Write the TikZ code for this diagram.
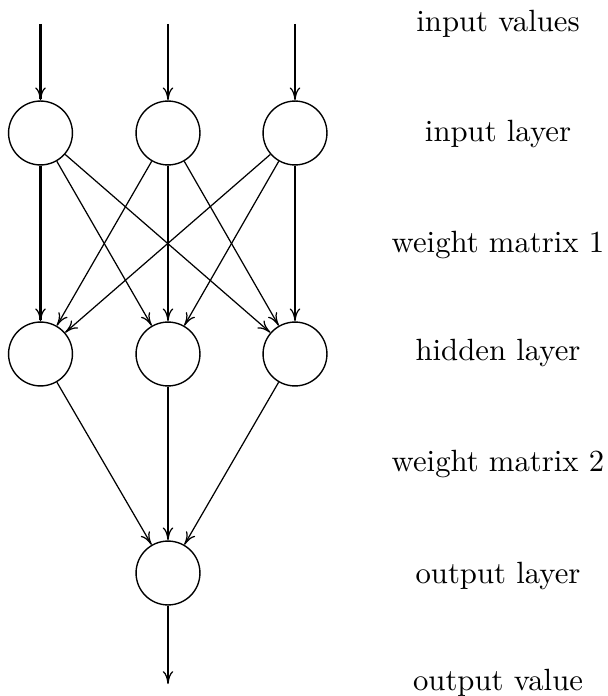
\documentclass[tikz,border=0pt]{standalone}
\usetikzlibrary{arrows.meta}
\begin{document}
\begin{tikzpicture}[x=0.3255pt,y=-0.3255pt,
  neuron/.style={circle,draw,line width=0.45pt,minimum size=20.8pt,inner sep=0pt},
  thickarrow/.style={line width=0.75pt,-{To[length=4.2pt,width=3.4pt,line width=0.4pt]}},
  thinarrow/.style={line width=0.4pt,-{To[length=4.2pt,width=3.4pt,line width=0.4pt]}},
  lbl/.style={font=\fontsize{10}{12}\selectfont,anchor=center}]
\useasboundingbox (0,0) rectangle (608,696);
% neurons
\node[neuron] (i1) at (40.5,133) {};
\node[neuron] (i2) at (168,133) {};
\node[neuron] (i3) at (295,133) {};
\node[neuron] (h1) at (40.5,354) {};
\node[neuron] (h2) at (168,354) {};
\node[neuron] (h3) at (295,354) {};
\node[neuron] (o1) at (168,573) {};
% input arrows
\coordinate (t1) at (40.5,24);
\coordinate (t2) at (168,24);
\coordinate (t3) at (295,24);
\coordinate (b1) at (168,684);
\draw[thickarrow] (t1) -- (i1);
\draw[thickarrow] (t2) -- (i2);
\draw[thickarrow] (t3) -- (i3);
% weight matrix 1
\draw[thickarrow] (i1) -- (h1);
\draw[thickarrow] (i2) -- (h2);
\draw[thickarrow] (i3) -- (h3);
\draw[thinarrow] (i1) -- (h2);
\draw[thinarrow] (i1) -- (h3);
\draw[thinarrow] (i2) -- (h1);
\draw[thinarrow] (i2) -- (h3);
\draw[thinarrow] (i3) -- (h1);
\draw[thinarrow] (i3) -- (h2);
% weight matrix 2
\draw[thinarrow] (h1) -- (o1);
\draw[thickarrow] (h2) -- (o1);
\draw[thinarrow] (h3) -- (o1);
% output
\draw[thickarrow] (o1) -- (b1);
% labels
\node[lbl] (l1) at (498,24) {input values};
\node[lbl] (l2) at (498,134) {input layer};
\node[lbl] (l3) at (498,245) {weight matrix 1};
\node[lbl] (l4) at (498,353) {hidden layer};
\node[lbl] (l5) at (498,464) {weight matrix 2};
\node[lbl] (l6) at (498,576) {output layer};
\node[lbl] (l7) at (498,683) {output value};
\end{tikzpicture}
\end{document}
